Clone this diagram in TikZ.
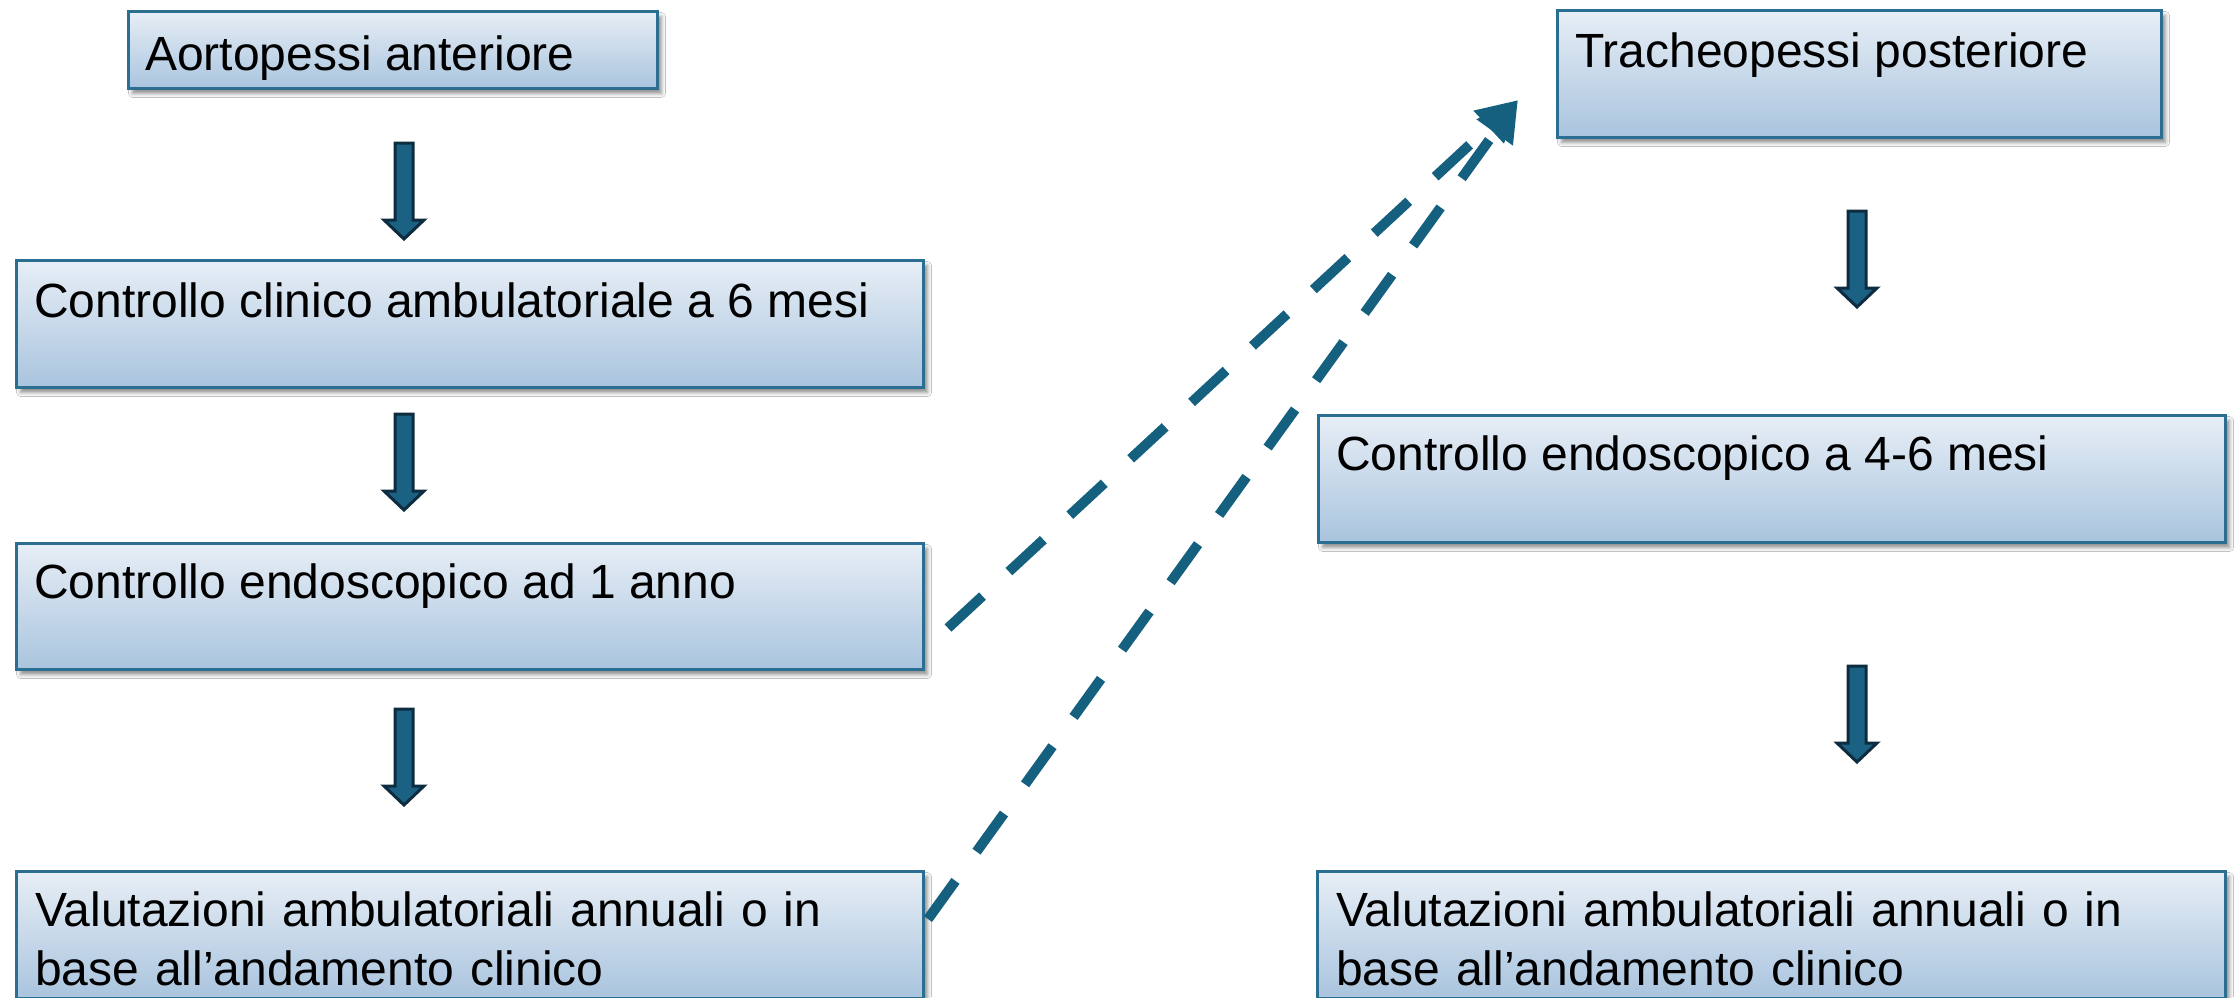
\documentclass[tikz,border=0pt]{standalone}
\usepackage{fontspec}
\setmainfont{Liberation Sans}
\usetikzlibrary{arrows.meta,shadows.blur,calc}
\definecolor{boxborder}{HTML}{2A6F92}
\definecolor{boxtop}{HTML}{E7EEF6}
\definecolor{boxbottom}{HTML}{A9C4DE}
\definecolor{arrfill}{HTML}{1B6184}
\definecolor{arrborder}{HTML}{0E2C3F}
\definecolor{dashcol}{HTML}{16607F}
\tikzset{
  flowbox/.style={draw=boxborder, line width=3pt, rectangle, inner sep=0pt,
    anchor=north west, top color=boxtop, bottom color=boxbottom,
    blur shadow={shadow xshift=4pt, shadow yshift=-5pt, shadow blur radius=4pt, shadow opacity=45}},
  boxtext/.style={anchor=base west, inner sep=0pt, font=\fontsize{48}{59}\selectfont},
  blocktip/.style={fill=arrfill, draw=arrborder, line width=3pt, line join=miter},
  dasharrow/.style={draw=dashcol, line width=10pt, dash pattern=on 47pt off 36pt,
    -{Triangle[length=40pt,width=42pt]}},
  blockarr/.pic={\path[blocktip] (-9,0) -- (9,0) -- (9,77) -- (20,77) -- (0,96) -- (-20,77) -- (-9,77) -- cycle;}
}
\begin{document}
\begin{tikzpicture}[x=1pt,y=-1pt]
\useasboundingbox (0,0) rectangle (2236,997);
\fill[white] (0,0) rectangle (2236,997);
\clip (0,0) rectangle (2236,997);
% left column boxes
\node[flowbox, minimum width=529pt, minimum height=77pt] (b1) at (127,10) {};
\node[flowbox, minimum width=907pt, minimum height=127pt] (b2) at (15,259) {};
\node[flowbox, minimum width=907pt, minimum height=126pt] (b3) at (15,542) {};
\node[flowbox, minimum width=907pt, minimum height=127pt] (b4) at (15,870) {};
% right column boxes
\node[flowbox, minimum width=604pt, minimum height=127pt] (r1) at (1556,9) {};
\node[flowbox, minimum width=907pt, minimum height=127pt] (r2) at (1317,414) {};
\node[flowbox, minimum width=908pt, minimum height=127pt] (r3) at (1316,870) {};
% texts
\node[boxtext] (t1) at ($(b1.north west)+(18,60)$) {Aortopessi anteriore};
\node[boxtext] (t2) at ($(b2.north west)+(19,58)$) {Controllo clinico ambulatoriale a 6 mesi};
\node[boxtext] (t3) at ($(b3.north west)+(19,56)$) {Controllo endoscopico ad 1 anno};
\node[boxtext, text width=880pt, align=left] (t4) at ($(b4.north west)+(20,56)$) {Valutazioni ambulatoriali annuali o in\\base all’andamento clinico};
\node[boxtext] (t5) at ($(r1.north west)+(19,58)$) {Tracheopessi posteriore};
\node[boxtext] (t6) at ($(r2.north west)+(19,56)$) {Controllo endoscopico a 4-6 mesi};
\node[boxtext, text width=880pt, align=left] (t7) at ($(r3.north west)+(20,56)$) {Valutazioni ambulatoriali annuali o in\\base all’andamento clinico};
% block arrows
\pic (a1) at (404,143) {blockarr};
\pic (a2) at (404,414) {blockarr};
\pic (a3) at (404,709) {blockarr};
\pic (a4) at (1857,211) {blockarr};
\pic (a5) at (1857,666) {blockarr};
% dashed connectors
\coordinate (s1) at (948,628);
\coordinate (s2) at (928,919);
\coordinate (tip) at (1518,100);
\draw[dasharrow] (s1) -- (tip);
\draw[dasharrow] (s2) -- (tip);
\end{tikzpicture}
\end{document}
